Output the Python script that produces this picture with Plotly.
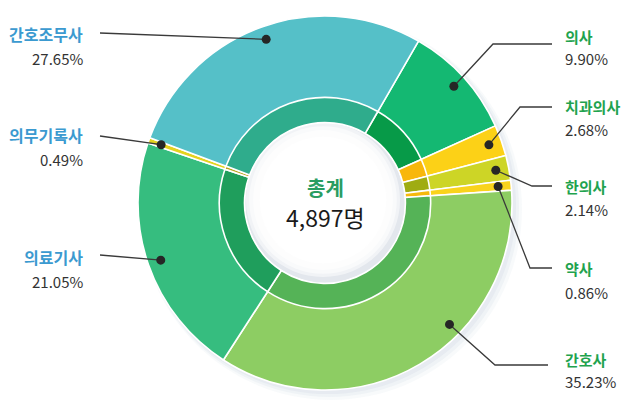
import math
import plotly.graph_objects as go

# ---------------- data ----------------
categories = ["의사", "치과의사", "한의사", "약사", "간호사", "의료기사", "의무기록사", "간호조무사"]
shares = [9.90, 2.68, 2.14, 0.86, 35.23, 21.05, 0.49, 27.65]
pct_labels = ["9.90%", "2.68%", "2.14%", "0.86%", "35.23%", "21.05%", "0.49%", "27.65%"]
center_title = "총계"
total_label = "4,897명"

# ---------------- styles ----------------
outer_colors = ["#14b872", "#fcd117", "#cdd526", "#f9d31c", "#8dcd63", "#36bd7f", "#e4d21f", "#55c0c8"]
inner_colors = ["#079a48", "#f8b70c", "#9fac12", "#f6b90c", "#55b357", "#1f9e5c", "#b9a41a", "#2fac8c"]

W, H = 621, 401
CX, CY, R = 325, 203, 187
HOLE = 0.43
RING = 0.565
ROT = 30
FONT = "Noto Sans CJK KR"

# label layout (pixel positions of text & leader lines)
label_layout = {
    "의사":     dict(side="r", ylab=36, ypct=58, path=[(493, 44), (552, 44)], frac=0.5),
    "치과의사": dict(side="r", ylab=106, ypct=129, path=[(520, 107), (552, 107)], frac=0.5),
    "한의사":   dict(side="r", ylab=186, ypct=209, path=[(532, 186), (552, 186)], frac=0.5),
    "약사":     dict(side="r", ylab=268, ypct=292, path=[(530, 268), (552, 268)], frac=0.5),
    "간호사":   dict(side="r", ylab=359, ypct=381, path=[(495, 365), (548, 365)], frac=0.38),
    "의료기사": dict(side="l", ylab=257, ypct=281, path=[(100, 255)], frac=0.5),
    "의무기록사": dict(side="l", ylab=135, ypct=159, path=[(100, 136)], frac=0.5),
    "간호조무사": dict(side="l", ylab=34, ypct=58, path=[(100, 33)], frac=0.5),
}

fig = go.Figure()

# background shadow / glow around the donut
for k, a in [(10, 0.08), (7, 0.10), (4, 0.12)]:
    fig.add_shape(type="circle", xref="x", yref="y",
                  x0=CX - R + 2, x1=CX + R + k, y0=CY - R + 2, y1=CY + R + k,
                  fillcolor=f"rgba(170,185,205,{a})", line_width=0, layer="below")

dom_x = [(CX - R) / W, (CX + R) / W]
dom_y = [1 - (CY + R) / H, 1 - (CY - R) / H]

fig.add_trace(go.Pie(
    labels=categories, values=shares, sort=False, direction="clockwise", rotation=ROT,
    hole=HOLE, marker=dict(colors=outer_colors, line=dict(color="white", width=1.6)),
    textinfo="none", hoverinfo="label+percent", showlegend=False,
    domain=dict(x=dom_x, y=dom_y),
))

r2 = R * RING
fig.add_trace(go.Pie(
    labels=categories, values=shares, sort=False, direction="clockwise", rotation=ROT,
    hole=HOLE / RING, marker=dict(colors=inner_colors, line=dict(color="white", width=1.6)),
    textinfo="none", hoverinfo="skip", showlegend=False,
    domain=dict(x=[(CX - r2) / W, (CX + r2) / W], y=[1 - (CY + r2) / H, 1 - (CY - r2) / H]),
))

# soft shading inside the hole
rh = R * HOLE - 1
fig.add_shape(type="circle", xref="x", yref="y", x0=CX - rh, x1=CX + rh, y0=CY - rh, y1=CY + rh,
              fillcolor="#e3e7ed", line_width=0, layer="above")
for f, a in [(0.97, 0.5), (0.93, 0.55), (0.88, 0.6), (0.8, 0.7), (0.7, 0.9)]:
    rr = rh * f
    fig.add_shape(type="circle", xref="x", yref="y", x0=CX - rr - 2, x1=CX + rr - 2,
                  y0=CY - rr - 3, y1=CY + rr - 3,
                  fillcolor=f"rgba(255,255,255,{a})", line_width=0, layer="above")

# dots & leader lines computed from slice angles (drawn above the pie)
total = sum(shares)
cum = 0.0
rd = R * 0.93
DOT = 4.5
for cat, v, pct in zip(categories, shares, pct_labels):
    lay = label_layout[cat]
    ang = math.radians(ROT + (cum + v * lay["frac"]) / total * 360)
    cum += v
    dx, dy = CX + rd * math.sin(ang), CY - rd * math.cos(ang)
    pts = [(dx, dy)] + lay["path"]
    path = "M " + " L ".join(f"{px:.2f},{py:.2f}" for px, py in pts)
    fig.add_shape(type="path", path=path, xref="x", yref="y",
                  line=dict(color="#3a3a3a", width=1.3), layer="above")
    fig.add_shape(type="circle", xref="x", yref="y",
                  x0=dx - DOT, x1=dx + DOT, y0=dy - DOT, y1=dy + DOT,
                  fillcolor="#262626", line_width=0, layer="above")
    if lay["side"] == "l":
        xa, anchor, col, fs = 85, "right", "#3b9ad0", 16
    else:
        xa, anchor, col, fs = 563, "left", "#1fa34e", 15
    fig.add_annotation(x=xa, y=lay["ylab"], xref="x", yref="y", text=f"<b>{cat}</b>",
                       showarrow=False, xanchor=anchor, yanchor="middle",
                       font=dict(family=FONT, size=fs, color=col))
    fig.add_annotation(x=xa, y=lay["ypct"], xref="x", yref="y", text=pct,
                       showarrow=False, xanchor=anchor, yanchor="middle",
                       font=dict(family=FONT, size=15, color="#333333"))

fig.add_annotation(x=CX, y=187, xref="x", yref="y", text=f"<b>{center_title}</b>",
                   showarrow=False, font=dict(family=FONT, size=20, color="#2a9d62"))
fig.add_annotation(x=CX, y=217, xref="x", yref="y", text=total_label,
                   showarrow=False, font=dict(family=FONT, size=23, color="#1a1a1a"))

fig.update_layout(
    width=W, height=H, margin=dict(l=0, r=0, t=0, b=0),
    paper_bgcolor="white", plot_bgcolor="rgba(0,0,0,0)",
    xaxis=dict(range=[0, W], visible=False, fixedrange=True, domain=[0, 1]),
    yaxis=dict(range=[H, 0], visible=False, fixedrange=True, domain=[0, 1]),
)

fig.write_html("out.html", config={"displayModeBar": False},
               post_script="document.body.style.margin='0px';")
